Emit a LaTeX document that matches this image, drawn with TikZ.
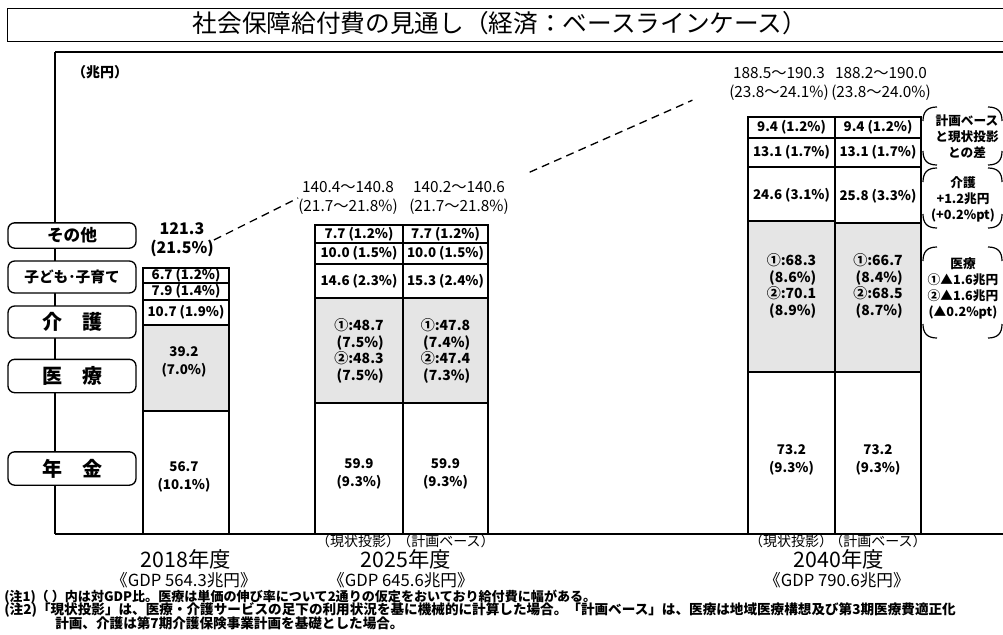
\documentclass[tikz,border=0pt]{standalone}
\usepackage{fontspec}
\setmainfont{Noto Sans CJK JP}
\usetikzlibrary{positioning}

\tikzset{
  val/.style={font=\fontsize{10}{13}\selectfont\bfseries, inner sep=0pt, align=center},
  med/.style={font=\fontsize{10.5}{12.3}\selectfont\bfseries, inner sep=0pt, align=right},
  rng/.style={font=\fontsize{11.5}{14}\selectfont, inner sep=0pt, align=center},
  cat/.style={draw, line width=1pt, rounded corners=5pt, fill=white, minimum width=96pt, inner sep=0pt},
  seg/.style={draw, line width=1.1pt},
  medseg/.style={seg, fill=black!10},
  sub/.style={font=\fontsize{10.5}{12}\selectfont, inner sep=0pt},
  yr/.style={font=\fontsize{16}{18}\selectfont, inner sep=0pt},
  gdp/.style={font=\fontsize{12.5}{14}\selectfont, inner sep=0pt},
  note/.style={font=\fontsize{10.2}{12}\selectfont\bfseries, inner sep=0pt, anchor=west},
  dif/.style={font=\fontsize{9.5}{12}\selectfont\bfseries, inner sep=0pt, align=center},
  brk/.style={line width=0.9pt}
}

\begin{document}
\begin{tikzpicture}[x=0.75pt,y=-0.75pt]
\useasboundingbox (0,0) rectangle (1003,635);

% title frame
\draw[line width=0.5pt] (1003,8) -- (7,8) -- (7,41) -- (1003,41);
\node[font=\fontsize{18.5}{20}\selectfont, inner sep=0pt] (title) at (500,23) {社会保障給付費の見通し（経済：ベースラインケース）};

% chart frame
\draw[line width=1.3pt] (1003,52) -- (55,52);
\draw[line width=0.9pt] (55,52) -- (55,534);
\draw[line width=1.3pt] (55,534) -- (1003,534);
\node[font=\fontsize{10.5}{12}\selectfont\bfseries, inner sep=0pt] (unit) at (100,72) {（兆円）};

% categories
\node[cat, minimum height=19pt, font=\fontsize{12.5}{14}\selectfont\bfseries] (sonota) at (72,235.5) {その他};
\node[cat, minimum height=24pt, font=\fontsize{11}{13}\selectfont\bfseries] (kodomo) at (72,277) {子ども･子育て};
\node[cat, minimum height=24pt, font=\fontsize{15}{17}\selectfont\bfseries] (kaigo) at (72,322) {介　護};
\node[cat, minimum height=25pt, font=\fontsize{15}{17}\selectfont\bfseries] (iryo) at (72,376) {医　療};
\node[cat, minimum height=25pt, font=\fontsize{15}{17}\selectfont\bfseries] (nenkin) at (72,468.5) {年　金};

% medical parts
\draw[medseg] (143,325) rectangle (229,411);
\draw[medseg] (315,298) rectangle (403,403);
\draw[medseg] (403,298) rectangle (488,403);
\draw[medseg] (748,221) rectangle (835,372);
\draw[medseg] (835,223) rectangle (921,372);

% other parts
\foreach \xa/\xb/\ya/\yb in {143/229/268/283, 143/229/283/300, 143/229/300/325, 143/229/411/534,
  315/403/225/243, 315/403/243/264, 315/403/264/298, 315/403/403/534,
  403/488/225/243, 403/488/243/264, 403/488/264/298, 403/488/403/534,
  748/835/117/138, 748/835/138/167, 748/835/167/221, 748/835/372/534,
  835/921/117/138, 835/921/138/167, 835/921/167/223, 835/921/372/534}
  \draw[seg] (\xa,\ya) rectangle (\xb,\yb);

% 2018
\node[val] (a1) at (186,275.5) {6.7 (1.2\%)};
\node[val] (a2) at (186,291.5) {7.9 (1.4\%)};
\node[val] (a3) at (186,312.5) {10.7 (1.9\%)};
\node[val] (a4) at (184,362) {39.2\\(7.0\%)};
\node[val] (a5) at (184,477) {56.7\\(10.1\%)};
\node[rng, font=\fontsize{12}{14}\selectfont\bfseries] (tot18) at (182,240) {121.3\\(21.5\%)};

% 2025
\node[val] (b1) at (359,234) {7.7 (1.2\%)};
\node[val] (b2) at (359,253.5) {10.0 (1.5\%)};
\node[val] (b3) at (359,281) {14.6 (2.3\%)};
\node[med] (b4) at (359,351) {①:48.7\\(7.5\%)\\②:48.3\\(7.5\%)};
\node[val] (b5) at (359,474) {59.9\\(9.3\%)};
\node[val] (c1) at (445.5,234) {7.7 (1.2\%)};
\node[val] (c2) at (445.5,253.5) {10.0 (1.5\%)};
\node[val] (c3) at (445.5,281) {15.3 (2.4\%)};
\node[med] (c4) at (445.5,351) {①:47.8\\(7.4\%)\\②:47.4\\(7.3\%)};
\node[val] (c5) at (445.5,474) {59.9\\(9.3\%)};
\node[rng] (tot25a) at (348,198) {140.4～140.8\\(21.7～21.8\%)};
\node[rng] (tot25b) at (459,198) {140.2～140.6\\(21.7～21.8\%)};

% 2040
\node[val] (d1) at (791.5,127.5) {9.4 (1.2\%)};
\node[val] (d2) at (791.5,152.5) {13.1 (1.7\%)};
\node[val] (d3) at (791.5,195) {24.6 (3.1\%)};
\node[med] (d4) at (791.5,286) {①:68.3\\(8.6\%)\\②:70.1\\(8.9\%)};
\node[val] (d5) at (791.5,460) {73.2\\(9.3\%)};
\node[val] (e1) at (878,127.5) {9.4 (1.2\%)};
\node[val] (e2) at (878,152.5) {13.1 (1.7\%)};
\node[val] (e3) at (878,196) {25.8 (3.3\%)};
\node[med] (e4) at (878,286) {①:66.7\\(8.4\%)\\②:68.5\\(8.7\%)};
\node[val] (e5) at (878,460) {73.2\\(9.3\%)};
\node[rng] (tot40a) at (779,84) {188.5～190.3\\(23.8～24.1\%)};
\node[rng] (tot40b) at (881,84) {188.2～190.0\\(23.8～24.0\%)};

% trend
\draw[line width=1pt, dash pattern=on 6pt off 4pt] (tot18.east) -- (tot25a.west);
\draw[line width=1pt, dash pattern=on 6pt off 4pt, shorten <=17pt, shorten >=30pt] (tot25b.north east) -- (tot40a.west);

% differences
\node[dif] (dsa) at (967,137) {計画ベース\\と現状投影\\との差};
\node[dif] (dka) at (963,199) {介護\\+1.2兆円\\(+0.2\%pt)};
\node[dif] (dir) at (963,288) {医療\\①▲1.6兆円\\②▲1.6兆円\\(▲0.2\%pt)};
\foreach \ya/\yb in {107/165, 168/228, 247/338} {
  \draw[brk] (937,\ya) .. controls (927,\ya) and (923,\ya+5) .. (923,\ya+14);
  \draw[brk] (923,\yb-14) .. controls (923,\yb-5) and (927,\yb) .. (937,\yb);
  \draw[brk] (988,\ya) .. controls (998,\ya) and (1002,\ya+5) .. (1002,\ya+14);
  \draw[brk] (1002,\yb-14) .. controls (1002,\yb-5) and (998,\yb) .. (988,\yb);
}

% years
\node[sub] (s1) at (358,541) {（現状投影）};
\node[sub] (s2) at (446,541) {（計画ベース）};
\node[sub] (s3) at (791,541) {（現状投影）};
\node[sub] (s4) at (878,541) {（計画ベース）};
\node[yr] (y18) at (186,559) {2018年度};
\node[yr] (y25) at (406,559) {2025年度};
\node[yr] (y40) at (839,559) {2040年度};
\node[gdp] (g18) at (184,580) {《GDP 564.3兆円》};
\node[gdp] (g25) at (401,580) {《GDP 645.6兆円》};
\node[gdp] (g40) at (837,580) {《GDP 790.6兆円》};

% notes
\node[note, font=\fontsize{9.8}{12}\selectfont\bfseries] (n1) at (4,597) {(注1)（ ）内は対GDP比。医療は単価の伸び率について2通りの仮定をおいており給付費に幅がある。};
\node[note] (n2) at (4,610) {(注2)「現状投影」は、医療・介護サービスの足下の利用状況を基に機械的に計算した場合。「計画ベース」は、医療は地域医療構想及び第3期医療費適正化};
\node[note] (n3) at (55,623) {計画、介護は第7期介護保険事業計画を基礎とした場合。};
\end{tikzpicture}
\end{document}
